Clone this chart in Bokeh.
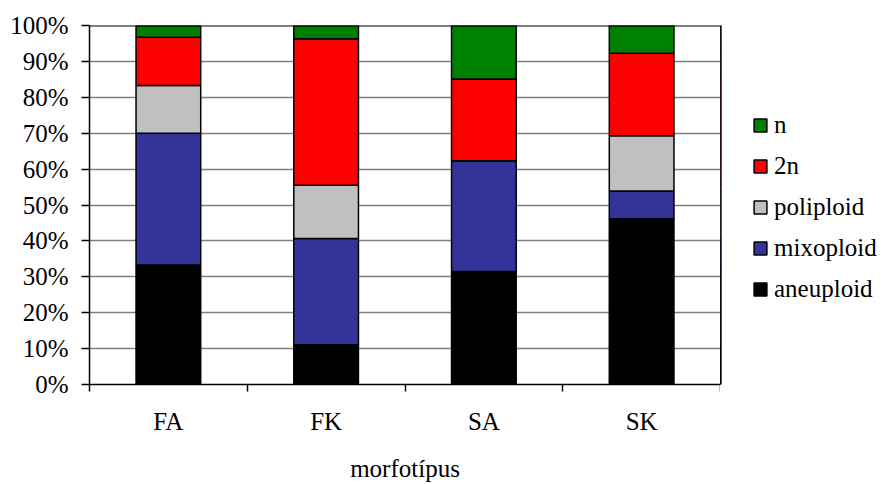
from bokeh.plotting import figure
from bokeh.layouts import row
from bokeh.models import (Range1d, FixedTicker, NumeralTickFormatter, Legend,
                          LegendItem, ColumnDataSource, Span)
from bokeh.embed import file_html
from bokeh.resources import INLINE

categories = ["FA", "FK", "SA", "SK"]
aneuploid = [33.3, 11.1, 31.5, 46.2]
mixoploid = [36.7, 29.6, 30.8, 7.7]
poliploid = [13.3, 14.8, 0.0, 15.4]
diploid_2n = [13.4, 40.8, 22.8, 23.0]
haploid_n = [3.3, 3.7, 14.9, 7.7]

series_names = ["aneuploid", "mixoploid", "poliploid", "2n", "n"]
series_values = [aneuploid, mixoploid, poliploid, diploid_2n, haploid_n]
colors = ["#000000", "#333399", "#C0C0C0", "#FF0000", "#008000"]
y_ticks = [0.0, 0.1, 0.2, 0.3, 0.4, 0.5, 0.6, 0.7, 0.8, 0.9, 1.0]

FONT = "'Liberation Serif', 'Times New Roman', serif"
LEG_FONT = "Liberation Serif"
FS = "25px"

x_pos = [i + 0.5 for i in range(len(categories))]
data = {"x": x_pos}
for name, vals in zip(series_names, series_values):
    data[name] = [v / 100.0 for v in vals]
source = ColumnDataSource(data)

p = figure(width=720, height=484, x_range=Range1d(0, len(categories)),
           y_range=Range1d(0, 1), output_backend="svg", toolbar_location=None,
           min_border_left=89, min_border_top=25, min_border_bottom=99,
           min_border_right=0)
p.outline_line_color = None
p.background_fill_color = "white"
p.border_fill_color = "white"

renderers = p.vbar_stack(series_names, x="x", width=0.41, color=colors,
                         line_color="black", line_width=1.5, source=source)

# grid
p.xgrid.visible = False
p.ygrid.ticker = FixedTicker(ticks=y_ticks)
p.ygrid.grid_line_color = "#808080"
p.ygrid.grid_line_width = 1.5

top_line = Span(location=1.0, dimension="width", line_color="black", line_width=2)
p.add_layout(top_line)

# y axis
ya = p.yaxis[0]
ya.ticker = FixedTicker(ticks=y_ticks)
ya.formatter = NumeralTickFormatter(format="0%")
ya.major_tick_out = 8
ya.major_tick_in = 0
ya.minor_tick_line_color = None
ya.axis_line_color = "black"
ya.axis_line_width = 1.5
ya.major_tick_line_color = "black"
ya.major_tick_line_width = 1.5
ya.major_label_text_font = FONT
ya.major_label_text_font_size = FS
ya.major_label_text_color = "black"
ya.major_label_standoff = 13

# x axis
xa = p.xaxis[0]
xa.ticker = FixedTicker(ticks=x_pos, minor_ticks=list(range(len(categories) + 1)))
xa.major_label_overrides = {x: c for x, c in zip(x_pos, categories)}
xa.major_tick_line_color = None
xa.major_tick_out = 0
xa.major_tick_in = 0
xa.minor_tick_out = 7
xa.minor_tick_in = 0
xa.minor_tick_line_color = "black"
xa.minor_tick_line_width = 1.5
xa.axis_line_color = "black"
xa.axis_line_width = 1.5
xa.major_label_text_font = FONT
xa.major_label_text_font_size = FS
xa.major_label_text_color = "black"
xa.major_label_standoff = 16
xa.axis_label = "morfotípus"
xa.axis_label_text_font = FONT
xa.axis_label_text_font_size = FS
xa.axis_label_text_font_style = "normal"
xa.axis_label_text_color = "black"
xa.axis_label_standoff = 17

# legend panel (separate figure, bars kept out of view)
q = figure(width=162, height=484, x_range=Range1d(100, 101), y_range=Range1d(0, 1),
           output_backend="svg", toolbar_location=None,
           x_axis_location=None, y_axis_location=None, min_border=0)
q.outline_line_color = None
q.grid.visible = False
q.border_fill_color = "white"
leg_renderers = q.vbar_stack(series_names, x="x", width=0.41, color=colors,
                             line_color="black", line_width=1.5, source=source)
items = [LegendItem(label=n, renderers=[r]) for n, r in zip(series_names, leg_renderers)]
items.reverse()
legend = Legend(items=items, location=(32, 81), margin=0, padding=0,
                glyph_width=16, glyph_height=16, label_standoff=6,
                label_text_font=LEG_FONT, label_text_font_size=FS,
                label_text_color="black", spacing=13,
                border_line_color=None, background_fill_alpha=0)
q.add_layout(legend)

layout = row(p, q)
open("out.html", "w").write(file_html(layout, INLINE))
